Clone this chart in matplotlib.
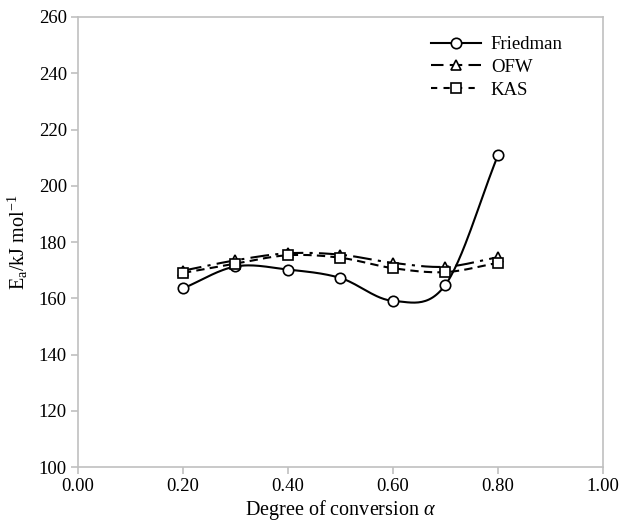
import numpy as np
import matplotlib.pyplot as plt

plt.rcParams['font.family'] = ['Liberation Serif', 'DejaVu Serif']
plt.rcParams['mathtext.fontset'] = 'custom'
plt.rcParams['mathtext.rm'] = 'Liberation Serif'
plt.rcParams['mathtext.it'] = 'Liberation Serif:italic'

# degree of conversion
alpha = [0.2, 0.3, 0.4, 0.5, 0.6, 0.7, 0.8]
# activation energy, kJ/mol
friedman = [163.5, 171.3, 170.2, 167.2, 159.1, 164.8, 210.8]
ofw = [169.8, 173.5, 176.0, 175.5, 172.6, 171.2, 174.6]
kas = [169.0, 172.3, 175.3, 174.4, 170.7, 169.3, 172.6]


def smooth(x, y, n=30):
    # Catmull-Rom curve through the points (like Excel "smoothed line")
    x = np.asarray(x, float)
    y = np.asarray(y, float)
    px = np.concatenate([[2 * x[0] - x[1]], x, [2 * x[-1] - x[-2]]])
    py = np.concatenate([[2 * y[0] - y[1]], y, [2 * y[-1] - y[-2]]])
    xs, ys = [], []
    t = np.linspace(0, 1, n)
    for i in range(1, len(px) - 2):
        for p, out in ((px, xs), (py, ys)):
            p0, p1, p2, p3 = p[i - 1], p[i], p[i + 1], p[i + 2]
            out.extend(0.5 * (2 * p1 + (-p0 + p2) * t
                              + (2 * p0 - 5 * p1 + 4 * p2 - p3) * t ** 2
                              + (-p0 + 3 * p1 - 3 * p2 + p3) * t ** 3))
    return xs, ys


fig = plt.figure(figsize=(6.19, 5.23), dpi=100)
ax = fig.add_axes([0.126, 0.107, 0.848, 0.8605])

# (values, name, line style in plot, line style in legend, marker)
styles = [
    (friedman, 'Friedman', '-', '-', 'o'),
    (ofw, 'OFW', (0, (9, 3, 1.5, 3)), (0, (6, 3)), '^'),
    (kas, 'KAS', (0, (4, 2.5)), (0, (3, 3)), 's'),
]
h = []
for vals, name, ls, lls, mk in styles:
    sx, sy = smooth(alpha, vals)
    ax.plot(sx, sy, color='black', ls=ls, lw=1.5)
    ax.plot(alpha, vals, ls='none', marker=mk, ms=7.5, mfc='white',
            mec='black', mew=1.2)
    h.append(plt.Line2D([], [], color='black', ls=lls, lw=1.5, marker=mk,
                        ms=7.5, mfc='white', mec='black', mew=1.2, label=name))

ax.legend(handles=h, loc='upper left', bbox_to_anchor=(0.64, 0.995), frameon=False,
          fontsize=13.5, handlelength=2.7, handletextpad=0.5, labelspacing=0.3)

ax.set_xlim(0, 1)
ax.set_ylim(100, 260)
ax.set_xticks(np.arange(0, 1.01, 0.2))
ax.set_xticklabels(['%.2f' % v for v in np.arange(0, 1.01, 0.2)])
ax.set_yticks(np.arange(100, 261, 20))

for s in ax.spines.values():
    s.set_color('#c0c0c0')
    s.set_linewidth(1.2)
ax.tick_params(axis='both', direction='out', length=5, color='#c0c0c0',
               labelsize=13.5, width=1.2, pad=3)

ax.set_xlabel(r'Degree of conversion $\it{\alpha}$', fontsize=14.5, labelpad=2)
ax.set_ylabel(r'E$_\mathrm{a}$/kJ mol$^{-1}$', fontsize=14.5, labelpad=6)

fig.savefig('out.png', dpi=100)
